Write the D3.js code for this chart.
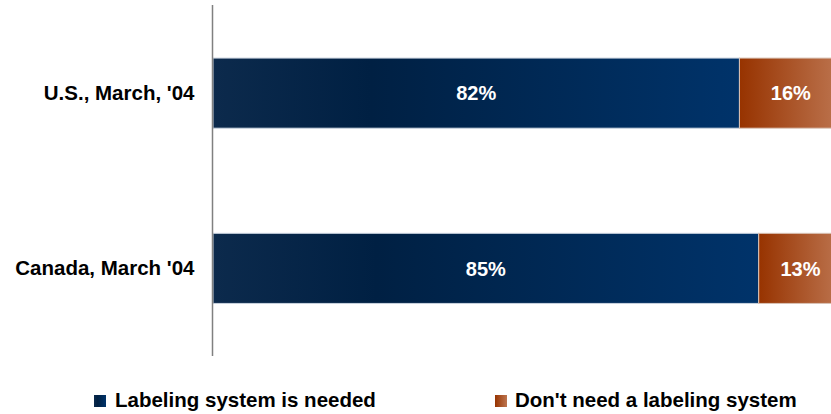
<!DOCTYPE html>
<html><head><meta charset="utf-8">
<script src="https://cdn.jsdelivr.net/npm/d3@7"></script>
<style>body{margin:0;background:#fff}svg{display:block;font-family:"Liberation Sans",Arial,sans-serif}</style>
</head><body>
<svg id="c" width="831" height="414"></svg>
<script>
const categories = ["U.S., March, '04", "Canada, March '04"];
const needed = [82, 85];
const notNeeded = [16, 13];
const seriesNames = ["Labeling system is needed", "Don't need a labeling system"];

const svg = d3.select("#c");
const defs = svg.append("defs");
const g1 = defs.append("linearGradient").attr("id","gBlue").attr("x1","0").attr("x2","1").attr("y1","0").attr("y2","0");
g1.append("stop").attr("offset","0").attr("stop-color","#0c2a4c");
g1.append("stop").attr("offset","0.3").attr("stop-color","#002043");
g1.append("stop").attr("offset","1").attr("stop-color","#00336a");
const g2 = defs.append("linearGradient").attr("id","gOrange").attr("x1","0").attr("x2","1").attr("y1","0").attr("y2","0");
g2.append("stop").attr("offset","0").attr("stop-color","#973300");
g2.append("stop").attr("offset","1").attr("stop-color","#bd7550");

const x0 = 213;
const x = d3.scaleLinear().domain([0, 100]).range([x0, x0 + 642]);
const y = d3.scaleBand().domain(categories).range([5.5, 356]).paddingInner(0.6).paddingOuter(0.3);

const rows = categories.map((c,i)=>({c, a: needed[i], b: notNeeded[i]}));

const gr = svg.append("g");
rows.forEach(r=>{
  gr.append("rect").attr("x", x(0)).attr("y", y(r.c)).attr("width", x(r.a)-x(0)).attr("height", y.bandwidth())
    .attr("fill","url(#gBlue)").attr("stroke","#c9d3df").attr("stroke-width",1);
  gr.append("rect").attr("x", x(r.a)).attr("y", y(r.c)).attr("width", x(r.a+r.b)-x(r.a)).attr("height", y.bandwidth())
    .attr("fill","url(#gOrange)").attr("stroke","#d9c2b5").attr("stroke-width",1);
  gr.append("text").attr("x", (x(0)+x(r.a))/2).attr("y", y(r.c)+y.bandwidth()/2).attr("dy","0.36em")
    .attr("text-anchor","middle").attr("fill","#fff").attr("font-weight","bold").attr("font-size",20).text(r.a+"%");
  gr.append("text").attr("x", (x(r.a)+x(r.a+r.b))/2).attr("y", y(r.c)+y.bandwidth()/2).attr("dy","0.36em")
    .attr("text-anchor","middle").attr("fill","#fff").attr("font-weight","bold").attr("font-size",20).text(r.b+"%");
});

// axis
const ax = svg.append("g").attr("transform",`translate(${x0-0.5},0)`)
  .call(d3.axisLeft(y).tickSize(0).tickPadding(18));
ax.select(".domain").attr("d","M0,5V356").attr("stroke","#808080").attr("stroke-width",1.5);
ax.selectAll("text").attr("font-size",20.5).attr("font-weight","bold").attr("fill","#000")
  .attr("font-family",'"Liberation Sans",Arial,sans-serif');

// legend
const leg = [{n: seriesNames[0], f:"url(#gBlue)", x:94, tx:115}, {n: seriesNames[1], f:"url(#gOrange)", x:495, tx:515}];
leg.forEach(l=>{
  svg.append("rect").attr("x", l.x).attr("y", 395).attr("width", 12).attr("height", 12).attr("fill", l.f);
  svg.append("text").attr("x", l.tx).attr("y", 407).attr("font-size",20.5).attr("font-weight","bold")
    .attr("fill","#000").text(l.n);
});
</script>
</body></html>
